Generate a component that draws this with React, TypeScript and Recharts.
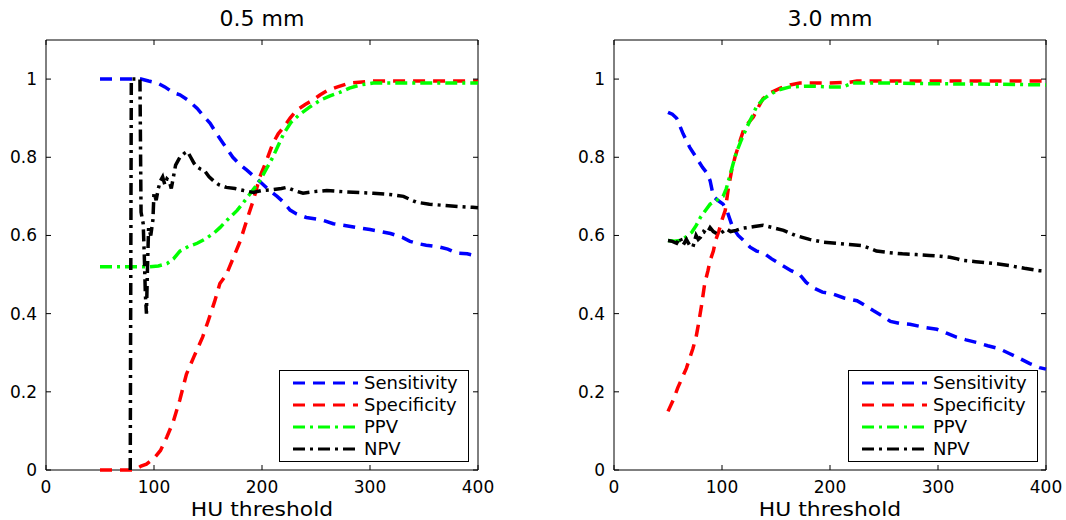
import React from 'react';
import { LineChart, Line, XAxis, YAxis, ReferenceArea, Legend } from 'recharts';

type Pt = [number, number];

// axis ticks and labels
const xTicks = [0, 100, 200, 300, 400];
const yTicks = [0, 0.2, 0.4, 0.6, 0.8, 1];
const seriesNames = ['Sensitivity', 'Specificity', 'PPV', 'NPV'];
const panelTitles = ['0.5 mm', '3.0 mm'];
const xLabel = 'HU threshold';

// 0.5 mm panel, [HU threshold, value]
const sens05: Pt[] = [
  [50, 1], [88, 1], [95, 0.995], [103, 0.99], [110, 0.98], [118, 0.965], [124, 0.96], [132, 0.945],
  [140, 0.925], [146, 0.905], [152, 0.887], [158, 0.86], [163, 0.84], [168, 0.82], [173, 0.8], [180, 0.78],
  [186, 0.767], [193, 0.75], [200, 0.733], [207, 0.715], [214, 0.7], [220, 0.685], [226, 0.665], [232, 0.655],
  [241, 0.646], [255, 0.64], [266, 0.63], [278, 0.625], [288, 0.62], [300, 0.615], [310, 0.61], [319, 0.605],
  [330, 0.595], [337, 0.585], [343, 0.58], [352, 0.575], [365, 0.57], [372, 0.565], [380, 0.555], [390, 0.553],
  [398, 0.548],
];
const spec05: Pt[] = [
  [50, 0], [82, 0], [88, 0.01], [93, 0.015], [100, 0.03], [106, 0.05], [112, 0.085], [118, 0.125], [124, 0.18],
  [130, 0.245], [137, 0.29], [145, 0.34], [150, 0.38], [156, 0.43], [161, 0.477], [167, 0.5], [173, 0.54],
  [180, 0.587], [186, 0.64], [192, 0.69], [198, 0.75], [204, 0.79], [210, 0.835], [215, 0.86], [220, 0.877],
  [226, 0.9], [232, 0.92], [240, 0.935], [247, 0.946], [254, 0.96], [260, 0.97], [270, 0.98], [281, 0.99],
  [303, 0.995], [350, 0.995], [400, 0.995],
];
const ppv05: Pt[] = [
  [50, 0.52], [90, 0.52], [96, 0.52], [104, 0.522], [112, 0.528], [118, 0.54], [124, 0.56], [132, 0.572],
  [140, 0.58], [148, 0.592], [155, 0.605], [161, 0.62], [168, 0.64], [177, 0.664], [183, 0.685], [189, 0.707],
  [194, 0.725], [198, 0.74], [204, 0.77], [210, 0.8], [215, 0.83], [220, 0.86], [227, 0.89], [235, 0.91],
  [245, 0.93], [254, 0.946], [263, 0.957], [272, 0.966], [281, 0.977], [291, 0.985], [303, 0.99], [330, 0.99],
  [360, 0.99], [400, 0.99],
];
const npv05: Pt[] = [
  [78, 0], [79, 1], [87, 1], [88, 0.66], [90, 0.63], [91, 0.55], [92, 0.45], [93, 0.4], [94, 0.52], [95, 0.62],
  [97, 0.6], [99, 0.64], [100, 0.71], [102, 0.69], [104, 0.72], [106, 0.74], [108, 0.75], [110, 0.73],
  [112, 0.745], [114, 0.74], [116, 0.72], [118, 0.75], [120, 0.78], [124, 0.8], [128, 0.81], [131, 0.815],
  [134, 0.8], [137, 0.785], [140, 0.775], [143, 0.77], [147, 0.765], [151, 0.75], [155, 0.74], [160, 0.73],
  [167, 0.723], [175, 0.72], [183, 0.715], [192, 0.71], [200, 0.715], [210, 0.717], [218, 0.72], [223, 0.723],
  [230, 0.715], [238, 0.708], [248, 0.712], [260, 0.715], [275, 0.712], [290, 0.71], [303, 0.708], [318, 0.705],
  [331, 0.7], [337, 0.692], [343, 0.685], [355, 0.68], [368, 0.677], [382, 0.674], [395, 0.672], [400, 0.671],
];

// 3.0 mm panel
const sens30: Pt[] = [
  [50, 0.915], [54, 0.91], [58, 0.9], [64, 0.86], [70, 0.826], [76, 0.8], [82, 0.774], [86, 0.76], [89, 0.74],
  [92, 0.7], [96, 0.69], [101, 0.68], [105, 0.66], [110, 0.62], [115, 0.6], [120, 0.587], [126, 0.57],
  [132, 0.56], [138, 0.556], [146, 0.54], [156, 0.523], [164, 0.51], [172, 0.5], [178, 0.48], [184, 0.467],
  [193, 0.455], [203, 0.45], [213, 0.44], [225, 0.433], [233, 0.42], [240, 0.408], [248, 0.395], [256, 0.38],
  [265, 0.375], [274, 0.373], [287, 0.365], [299, 0.36], [308, 0.35], [317, 0.34], [326, 0.333], [336, 0.326],
  [346, 0.318], [357, 0.31], [366, 0.298], [376, 0.285], [385, 0.272], [394, 0.262], [400, 0.258],
];
const spec30: Pt[] = [
  [50, 0.15], [55, 0.18], [59, 0.21], [63, 0.235], [67, 0.26], [70, 0.285], [73, 0.31], [76, 0.34], [78, 0.37],
  [81, 0.42], [84, 0.477], [87, 0.51], [89, 0.536], [92, 0.56], [94, 0.587], [97, 0.61], [100, 0.64],
  [103, 0.664], [106, 0.723], [109, 0.767], [112, 0.8], [114, 0.818], [117, 0.845], [120, 0.87], [125, 0.89],
  [129, 0.903], [134, 0.93], [138, 0.95], [145, 0.965], [154, 0.977], [163, 0.985], [172, 0.99], [200, 0.99],
  [218, 0.992], [225, 0.995], [300, 0.995], [400, 0.995],
];
const ppv30: Pt[] = [
  [50, 0.587], [56, 0.585], [61, 0.587], [66, 0.595], [72, 0.608], [76, 0.625], [80, 0.646], [85, 0.665],
  [89, 0.68], [95, 0.69], [101, 0.7], [104, 0.72], [107, 0.75], [110, 0.78], [113, 0.81], [118, 0.845],
  [123, 0.877], [128, 0.905], [132, 0.93], [138, 0.948], [144, 0.96], [152, 0.972], [163, 0.98], [181, 0.982],
  [200, 0.98], [212, 0.98], [221, 0.99], [250, 0.99], [300, 0.988], [350, 0.987], [400, 0.985],
];
const npv30: Pt[] = [
  [50, 0.587], [54, 0.585], [58, 0.58], [61, 0.595], [64, 0.575], [67, 0.59], [70, 0.575], [73, 0.57], [76, 0.6],
  [78, 0.59], [80, 0.595], [83, 0.61], [86, 0.605], [89, 0.62], [92, 0.61], [95, 0.605], [98, 0.605], [101, 0.61],
  [104, 0.617], [108, 0.61], [113, 0.613], [118, 0.618], [123, 0.62], [130, 0.623], [138, 0.626], [147, 0.62],
  [157, 0.613], [168, 0.6], [181, 0.59], [194, 0.583], [206, 0.58], [218, 0.577], [230, 0.574], [237, 0.567],
  [243, 0.56], [255, 0.556], [267, 0.553], [280, 0.551], [292, 0.549], [302, 0.547], [311, 0.544], [318, 0.54],
  [323, 0.536], [335, 0.533], [345, 0.53], [356, 0.527], [366, 0.523], [380, 0.516], [394, 0.51], [400, 0.509],
];

const STYLES = [
  { color: '#0000ff', dash: '12 8' },
  { color: '#ff0000', dash: '12 8' },
  { color: '#00ff00', dash: '12 5 3 5' },
  { color: '#000000', dash: '12 5 3 5' },
];

const FONT = '"DejaVu Sans", sans-serif';
const PLOT_TOP = 40;
const PLOT_BOTTOM = 470;
const PLOT_LEFT = 46;
const PLOT_W = 432;
const H = 520;

const toRows = (pts: Pt[]) => pts.map(([x, y]) => ({ x, y }));

const LegendBox = () => (
  <div style={{ border: '1px solid #000', background: '#fff', width: 188, height: 89, paddingTop: 1, boxSizing: 'content-box' }}>
    {seriesNames.map((name, i) => (
      <div key={name} style={{ display: 'flex', alignItems: 'center', height: 22 }}>
        <svg width={84} height={10} style={{ display: 'block' }}>
          <line x1={13} x2={78} y1={5} y2={5} stroke={STYLES[i].color} strokeWidth={3} strokeDasharray={STYLES[i].dash} />
        </svg>
        <span style={{ fontFamily: FONT, fontSize: 18, color: '#000', lineHeight: '22px' }}>{name}</span>
      </div>
    ))}
  </div>
);

interface PanelProps {
  title: string;
  series: Pt[][];
  left: number;
  width: number;
  legendLeft: number;
}

const Panel = ({ title, series, left, width, legendLeft }: PanelProps) => {
  const plotRight = PLOT_LEFT + PLOT_W;

  const xTick = (props: any) => {
    const { x, payload } = props;
    return (
      <g>
        <line x1={x} x2={x} y1={PLOT_BOTTOM} y2={PLOT_BOTTOM - 5} stroke="#000" />
        <line x1={x} x2={x} y1={PLOT_TOP} y2={PLOT_TOP + 5} stroke="#000" />
        <text x={x} y={493} textAnchor="middle" fontSize={17} fontFamily={FONT} fill="#000">
          {String(payload.value)}
        </text>
      </g>
    );
  };

  const yTick = (props: any) => {
    const { y, payload } = props;
    return (
      <g>
        <line x1={PLOT_LEFT} x2={PLOT_LEFT + 5} y1={y} y2={y} stroke="#000" />
        <line x1={plotRight} x2={plotRight - 5} y1={y} y2={y} stroke="#000" />
        <text x={37} y={y + 6} textAnchor="end" fontSize={17} fontFamily={FONT} fill="#000">
          {String(payload.value)}
        </text>
      </g>
    );
  };

  return (
    <div style={{ position: 'absolute', left, top: 0, width, height: H }}>
      <div style={{ position: 'absolute', left: PLOT_LEFT, width: PLOT_W, top: 8, textAlign: 'center', fontFamily: FONT, fontSize: 22, lineHeight: '22px', color: '#000' }}>
        {title}
      </div>
      <LineChart width={width} height={H} margin={{ top: PLOT_TOP, right: width - plotRight, bottom: 0, left: 0 }}>
        <XAxis type="number" dataKey="x" domain={[0, 400]} ticks={xTicks} interval={0} height={H - PLOT_BOTTOM}
          tick={xTick} tickLine={false} axisLine={false} />
        <YAxis type="number" dataKey="y" domain={[0, 1.1]} ticks={yTicks} interval={0} width={PLOT_LEFT}
          tick={yTick} tickLine={false} axisLine={false} />
        <ReferenceArea x1={0} x2={400} y1={0} y2={1.1} fill="none" stroke="#000" strokeWidth={1} />
        {series.map((pts, i) => (
          <Line key={seriesNames[i]} name={seriesNames[i]} data={toRows(pts)} dataKey="y" type="linear"
            stroke={STYLES[i].color} strokeWidth={3.5} strokeDasharray={STYLES[i].dash}
            dot={false} activeDot={false} isAnimationActive={false} />
        ))}
        <Legend layout="vertical" align="center" verticalAlign="middle" content={() => <LegendBox />}
          wrapperStyle={{ left: legendLeft, top: 370, width: 190, height: 91 }} />
      </LineChart>
      <div style={{ position: 'absolute', left: PLOT_LEFT, width: PLOT_W, top: 497.6, height: 22, textAlign: 'center', fontFamily: FONT, fontSize: 19, lineHeight: '22px', color: '#000', transform: 'scaleX(1.15)' }}>
        {xLabel}
      </div>
    </div>
  );
}

export default function App() {
  return (
    <div style={{ position: 'absolute', left: 0, top: 0, width: 1066, height: H, background: '#fff', overflow: 'hidden' }}>
      <Panel title={panelTitles[0]} series={[sens05, spec05, ppv05, npv05]} left={0} width={533} legendLeft={279} />
      <Panel title={panelTitles[1]} series={[sens30, spec30, ppv30, npv30]} left={568} width={498} legendLeft={280} />
    </div>
  );
}
